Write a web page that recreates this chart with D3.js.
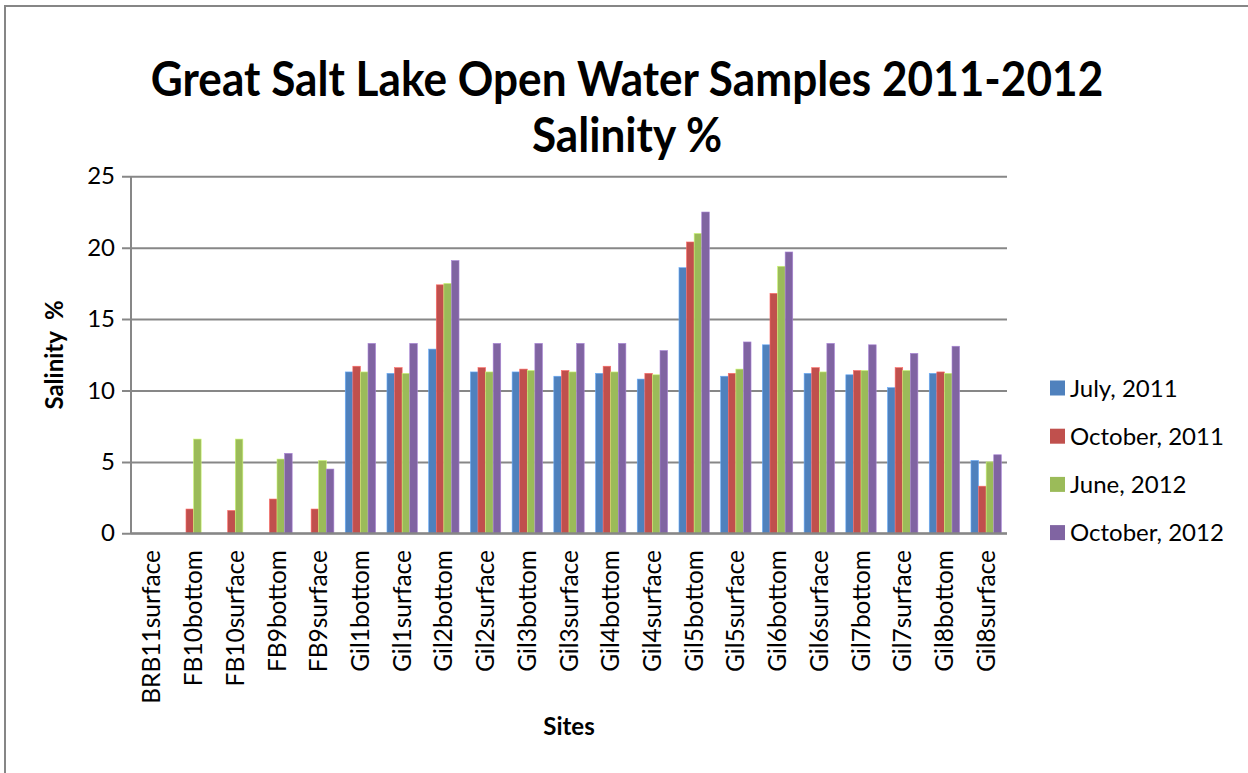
<!DOCTYPE html>
<html>
<head>
<meta charset="utf-8">
<script src="https://cdn.jsdelivr.net/npm/d3@7"></script>
<style>
  body { margin: 0; background: #fff; }
  text { font-family: Lato, "Open Sans", sans-serif; fill: #000; }
</style>
</head>
<body>
<div id="chart"></div>
<script>
// Great Salt Lake open water samples, salinity by site and sampling date
const sites = ["BRB11surface", "FB10bottom", "FB10surface", "FB9bottom", "FB9surface",
  "Gil1bottom", "Gil1surface", "Gil2bottom", "Gil2surface", "Gil3bottom", "Gil3surface",
  "Gil4bottom", "Gil4surface", "Gil5bottom", "Gil5surface", "Gil6bottom", "Gil6surface",
  "Gil7bottom", "Gil7surface", "Gil8bottom", "Gil8surface"];

const seriesNames = ["July, 2011", "October, 2011", "June, 2012", "October, 2012"];
const seriesColors = ["#4F81BD", "#C0504D", "#9BBB59", "#8064A2"];

const july2011 = [null, null, null, null, null, 11.3, 11.2, 12.9, 11.3, 11.3, 11.0, 11.2, 10.8, 18.6, 11.0, 13.2, 11.2, 11.1, 10.2, 11.2, 5.1];
const october2011 = [null, 1.7, 1.6, 2.4, 1.7, 11.7, 11.6, 17.4, 11.6, 11.5, 11.4, 11.7, 11.2, 20.4, 11.2, 16.8, 11.6, 11.4, 11.6, 11.3, 3.3];
const june2012 = [null, 6.6, 6.6, 5.2, 5.1, 11.3, 11.2, 17.5, 11.3, 11.4, 11.3, 11.3, 11.1, 21.0, 11.5, 18.7, 11.3, 11.4, 11.4, 11.2, 5.0];
const october2012 = [null, null, null, 5.6, 4.5, 13.3, 13.3, 19.1, 13.3, 13.3, 13.3, 13.3, 12.8, 22.5, 13.4, 19.7, 13.3, 13.2, 12.6, 13.1, 5.5];

const yTicks = [0, 5, 10, 15, 20, 25];

const allSeries = [july2011, october2011, june2012, october2012];

const width = 1248, height = 773;
const margin = { top: 176.3, right: 241, bottom: 239.7, left: 131 };

const svg = d3.select('#chart').append('svg')
  .attr('width', width)
  .attr('height', height);

// outer chart border (runs off the right and bottom edges)
svg.append('rect')
  .attr('x', 5).attr('y', 6)
  .attr('width', width + 10).attr('height', height + 10)
  .attr('fill', 'none')
  .attr('stroke', '#868686')
  .attr('stroke-width', 2);

const x0 = d3.scaleBand()
  .domain(sites)
  .range([margin.left, width - margin.right])
  .paddingInner(1.5 / 5.5)
  .paddingOuter(0.75 / 5.5);

const x1 = d3.scaleBand()
  .domain(d3.range(seriesNames.length))
  .range([0, x0.bandwidth()]);

const y = d3.scaleLinear()
  .domain([0, 25])
  .range([height - margin.bottom, margin.top]);

// gridlines + y axis
const yAxis = d3.axisLeft(y)
  .tickValues(yTicks)
  .tickSize(-(width - margin.right - margin.left))
  .tickPadding(16);

const yAxisG = svg.append('g')
  .attr('transform', `translate(${margin.left},0)`)
  .call(yAxis);
yAxisG.select('.domain').remove();
yAxisG.selectAll('.tick line')
  .attr('x1', -9)
  .attr('stroke', '#878787')
  .attr('stroke-width', 2);
yAxisG.selectAll('.tick text')
  .style('font-size', '24px');

svg.append('line')
  .attr('x1', margin.left).attr('x2', margin.left)
  .attr('y1', y(25)).attr('y2', y(0))
  .attr('stroke', '#878787')
  .attr('stroke-width', 2);

// bars
const groups = svg.append('g').selectAll('g')
  .data(sites)
  .join('g')
  .attr('transform', d => `translate(${x0(d)},0)`);

groups.selectAll('rect')
  .data((d, i) => allSeries.map((s, k) => ({ k, v: s[i] })).filter(e => e.v != null))
  .join('rect')
  .attr('x', d => x1(d.k))
  .attr('y', d => y(d.v))
  .attr('width', x1.bandwidth())
  .attr('height', d => y(0) - y(d.v))
  .attr('fill', d => seriesColors[d.k])
  .attr('stroke', d => d3.color(seriesColors[d.k]).brighter(0.8))
  .attr('stroke-width', 0.6);

// x axis line over the bars
svg.append('line')
  .attr('x1', margin.left).attr('x2', width - margin.right)
  .attr('y1', y(0)).attr('y2', y(0))
  .attr('stroke', '#878787')
  .attr('stroke-width', 2);

// x tick labels, rotated
svg.append('g').selectAll('text')
  .data(sites)
  .join('text')
  .attr('transform', d => `translate(${x0(d) + x0.bandwidth() / 2},550) rotate(-90)`)
  .attr('text-anchor', 'end')
  .attr('dy', '0.35em')
  .style('font-size', '24.5px')
  .text(d => d);

// titles (Calibri is narrower than Lato, so squeeze a little)
svg.append('text')
  .attr('transform', 'translate(627,96) scale(0.92,1)')
  .attr('text-anchor', 'middle')
  .style('font-size', '48px').style('font-weight', 'bold')
  .text('Great Salt Lake Open Water Samples 2011-2012');
svg.append('text')
  .attr('transform', 'translate(627,152) scale(0.92,1)')
  .attr('text-anchor', 'middle')
  .style('font-size', '48px').style('font-weight', 'bold')
  .text('Salinity %');

svg.append('text')
  .attr('transform', 'translate(63,355) rotate(-90)')
  .attr('text-anchor', 'middle')
  .style('font-size', '24px').style('font-weight', 'bold')
  .style('white-space', 'pre')
  .text('Salinity  %');

svg.append('text')
  .attr('x', 569).attr('y', 735)
  .attr('text-anchor', 'middle')
  .style('font-size', '24px').style('font-weight', 'bold')
  .text('Sites');

// legend
const legend = svg.append('g').selectAll('g')
  .data(seriesNames)
  .join('g')
  .attr('transform', (d, i) => `translate(1050,${388 + i * 48.2})`);
legend.append('rect')
  .attr('x', 0).attr('y', -7.5)
  .attr('width', 15).attr('height', 15)
  .attr('fill', (d, i) => seriesColors[i]);
legend.append('text')
  .attr('x', 20).attr('dy', '0.36em')
  .style('font-size', '24px')
  .text(d => d);
</script>
</body>
</html>
